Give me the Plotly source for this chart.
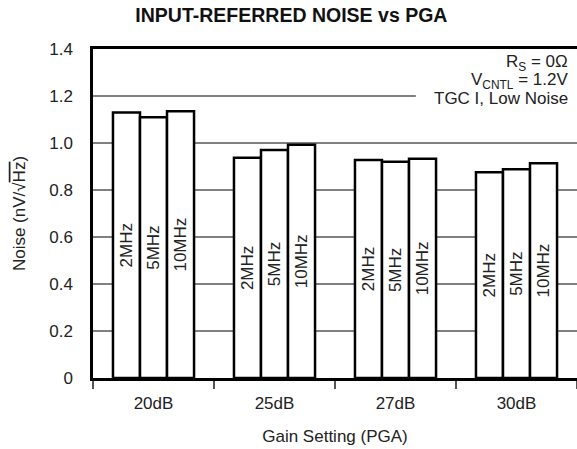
import plotly.graph_objects as go

categories = ["20dB", "25dB", "27dB", "30dB"]
series_names = ["2MHz", "5MHz", "10MHz"]
noise_2mhz = [1.13, 0.937, 0.928, 0.875]
noise_5mhz = [1.11, 0.970, 0.920, 0.888]
noise_10mhz = [1.135, 0.993, 0.933, 0.914]
y_ticks = [0, 0.2, 0.4, 0.6, 0.8, 1.0, 1.2, 1.4]
y_tick_labels = ["0", "0.2", "0.4", "0.6", "0.8", "1.0", "1.2", "1.4"]

FONT = "Liberation Sans, Arial, Helvetica, sans-serif"
TXT = "#222222"

fig = go.Figure()
for name, vals in zip(series_names, [noise_2mhz, noise_5mhz, noise_10mhz]):
    fig.add_trace(go.Bar(
        x=categories, y=vals, name=name,
        text=[name] * len(categories),
        textposition="inside", textangle=-90, insidetextanchor="middle",
        textfont=dict(family=FONT, size=17, color=TXT),
        marker=dict(color="white", line=dict(color="black", width=2.5)),
        showlegend=False,
    ))

fig.update_layout(
    width=577, height=449,
    margin=dict(l=93, r=0, t=49, b=71),
    paper_bgcolor="white", plot_bgcolor="white",
    barmode="group", bargap=0.33, bargroupgap=0,
    uniformtext=dict(mode="show", minsize=17),
    font=dict(family=FONT, size=17, color=TXT),
    title=dict(text="<b>INPUT-REFERRED NOISE vs PGA</b>", x=0.505, xref="container",
               xanchor="center", y=1 - 15 / 449, yref="container", yanchor="middle",
               font=dict(family=FONT, size=19.5, color="#111111")),
    xaxis=dict(
        range=[-0.5, 3.5], showline=True, linecolor="black", linewidth=2.5, mirror=True,
        ticks="outside", tickson="boundaries", ticklen=8, tickcolor="#555555", tickwidth=1.5,
        ticklabelstandoff=8, showgrid=False,
        tickfont=dict(family=FONT, size=17, color=TXT),
        title=dict(text="Gain Setting (PGA)", standoff=18, font=dict(family=FONT, size=17, color=TXT)),
    ),
    yaxis=dict(
        range=[0, 1.4], tickvals=y_ticks, ticktext=y_tick_labels,
        showline=True, linecolor="black", linewidth=2.5,
        showgrid=True, gridcolor="#808080", gridwidth=1.5, zeroline=False,
        ticks="", ticklabelstandoff=14,
        tickfont=dict(family=FONT, size=17, color=TXT),
        title=dict(text='Noise (nV/√<span style="text-decoration:overline">Hz</span>)', standoff=20,
                   font=dict(family=FONT, size=17, color=TXT)),
    ),
)

fig.add_shape(type="rect", xref="paper", yref="y", x0=0.667, x1=1.0, y0=1.15, y1=1.39,
              fillcolor="white", line=dict(width=0), layer="above")

notes = [("R<sub>S</sub> = 0Ω", 1.342), ("V<sub>CNTL</sub> = 1.2V", 1.264), ("TGC I, Low Noise", 1.19)]
for txt, yy in notes:
    fig.add_annotation(text=txt, xref="paper", yref="y", x=0.986, y=yy, xanchor="right",
                       yanchor="middle", showarrow=False, align="right",
                       font=dict(family=FONT, size=17, color=TXT))

fig.write_html("out.html", config={"displayModeBar": False},
               post_script="document.body.style.margin='0';")
